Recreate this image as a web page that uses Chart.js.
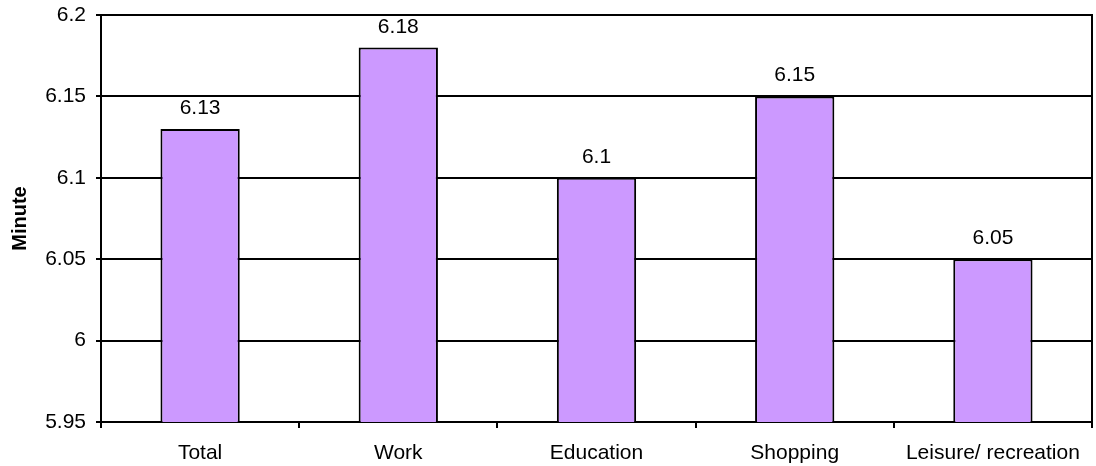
<!DOCTYPE html>
<html>
<head>
<meta charset="utf-8">
<style>
    html, body { margin: 0; padding: 0; background: #fff; }
    #wrap { width: 1096px; height: 466px; }
</style>
</head>
<body>
<div id="wrap">
    <canvas id="minute-chart" width="1096" height="466"></canvas>
</div>

<script src="https://cdn.jsdelivr.net/npm/chart.js"></script>

<script>
    const categories = ['Total', 'Work', 'Education', 'Shopping', 'Leisure/ recreation'];
    const minutes = [6.13, 6.18, 6.1, 6.15, 6.05];
    const yMin = 5.95;
    const yMax = 6.2;
    const yStep = 0.05;

    // right edge of the plot frame
    const frameRight = {
        id: 'frameRight',
        afterDraw(chart) {
            const { ctx, chartArea } = chart;
            ctx.save();
            ctx.strokeStyle = '#000';
            ctx.lineWidth = 2;
            ctx.beginPath();
            ctx.moveTo(chartArea.right, chartArea.top - 1);
            ctx.lineTo(chartArea.right, chartArea.bottom + 6);
            ctx.stroke();
            ctx.restore();
        }
    };

    // value printed above each bar
    const barValues = {
        id: 'barValues',
        afterDatasetsDraw(chart) {
            const { ctx } = chart;
            const meta = chart.getDatasetMeta(0);
            ctx.save();
            ctx.fillStyle = '#000';
            ctx.font = '21px "Liberation Sans", Arial, sans-serif';
            ctx.textAlign = 'center';
            ctx.textBaseline = 'alphabetic';
            meta.data.forEach((bar, i) => {
                ctx.fillText(String(minutes[i]), bar.x, bar.y - 15);
            });
            ctx.restore();
        }
    };

    Chart.defaults.font.family = '"Liberation Sans", Arial, sans-serif';
    Chart.defaults.font.size = 21;
    Chart.defaults.color = '#000';

    const ctx = document.getElementById('minute-chart');

    new Chart(ctx, {
        type: 'bar',
        data: {
            labels: categories,
            datasets: [
                {
                    label: 'Minute',
                    data: minutes,
                    backgroundColor: '#cc99ff',
                    borderColor: '#000',
                    borderWidth: 2,
                    borderSkipped: false,
                    categoryPercentage: 1,
                    barPercentage: 0.4
                }
            ]
        },
        options: {
            responsive: false,
            animation: false,
            layout: {
                padding: { top: 15, right: 4, left: 0, bottom: 0 }
            },
            plugins: {
                legend: { display: false },
                tooltip: { enabled: false }
            },
            scales: {
                x: {
                    afterFit: (scale) => {
                        scale.height = 44;
                        scale.paddingLeft = 0;
                        scale.paddingRight = 0;
                    },
                    grid: {
                        offset: true,
                        drawOnChartArea: false,
                        drawTicks: true,
                        tickLength: 6,
                        color: '#000',
                        lineWidth: 2
                    },
                    border: { display: true, color: '#000', width: 2 },
                    ticks: { padding: 13, maxRotation: 0, autoSkip: false }
                },
                y: {
                    min: yMin,
                    max: yMax,
                    afterFit: (scale) => {
                        scale.width = 101;
                        scale.paddingTop = 0;
                        scale.paddingBottom = 0;
                    },
                    title: {
                        display: true,
                        text: 'Minute',
                        font: { size: 20, weight: 'bold' },
                        padding: { top: 8, bottom: 0 }
                    },
                    grid: {
                        color: '#000',
                        lineWidth: 2,
                        drawTicks: true,
                        tickLength: 5
                    },
                    border: { display: true, color: '#000', width: 2 },
                    ticks: {
                        stepSize: yStep,
                        padding: 10,
                        callback: (value) => String(Number(value.toFixed(2)))
                    }
                }
            }
        },
        plugins: [frameRight, barValues]
    });
</script>
</body>
</html>
